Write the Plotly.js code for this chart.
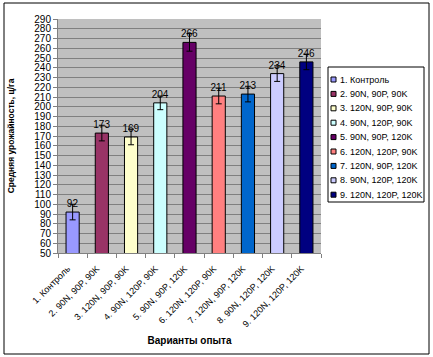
<!DOCTYPE html>
<html>
<head>
<meta charset="utf-8">
<script src="https://cdn.plot.ly/plotly-3.0.1.min.js"></script>
<style>
html,body{margin:0;padding:0;background:#fff;}
#chart{width:433px;height:357px;}
</style>
</head>
<body>
<div id="chart"></div>
<script>
const categories = ["1. Контроль", "2. 90N, 90P, 90K", "3. 120N, 90P, 90K", "4. 90N, 120P, 90K", "5. 90N, 90P, 120K", "6. 120N, 120P, 90K", "7. 120N, 90P, 120K", "8. 90N, 120P, 120K", "9. 120N, 120P, 120K"];
const yields = [92, 173, 169, 204, 266, 211, 213, 234, 246];
const errors = [8, 8, 8, 7, 9, 8, 8, 8, 8];
const colors = ["#9999FF", "#993366", "#FFFFCC", "#CCFFFF", "#660066", "#FF8080", "#0066CC", "#CCCCFF", "#000080"];

const font = "Arial, 'Liberation Sans', sans-serif";

// plot-area geometry (pixels) used to place the legend box in paper coordinates
const W = 433, H = 357, M = {l: 58, r: 112, t: 19, b: 104};
const pw = W - M.l - M.r, ph = H - M.t - M.b;
const px = x => (x - M.l) / pw;
const py = y => (H - M.b - y) / ph;

const traces = categories.map((c, i) => ({
  type: 'bar',
  x: [c],
  y: [yields[i]],
  name: c,
  width: 0.45,
  marker: {color: colors[i], line: {color: '#000', width: 1}},
  error_y: {type: 'data', array: [errors[i]], visible: true, color: '#000', thickness: 1, width: 3},
  text: [String(yields[i])],
  textposition: 'outside',
  constraintext: 'none',
  textfont: {family: font, size: 10, color: '#000'},
  cliponaxis: false
}));

// legend (drawn as box + swatches + labels, built from the series arrays)
const shapes = [
  {type: 'rect', xref: 'paper', yref: 'paper', x0: px(4), x1: px(429), y0: py(354), y1: py(3), line: {color: '#000', width: 1}},
  {type: 'rect', xref: 'paper', yref: 'paper', x0: px(328), x1: px(424), y0: py(202), y1: py(67), line: {color: '#000', width: 1}, fillcolor: '#fff'}
];
const annotations = [];
categories.forEach((c, i) => {
  const yc = 79.5 + i * 14.4;
  shapes.push({type: 'rect', xref: 'paper', yref: 'paper', x0: px(331), x1: px(336), y0: py(yc + 2.5), y1: py(yc - 2.5), line: {color: '#000', width: 1}, fillcolor: colors[i]});
  annotations.push({xref: 'paper', yref: 'paper', x: px(338), y: py(yc), xanchor: 'left', yanchor: 'middle', text: c, showarrow: false, font: {family: font, size: 9, color: '#000'}});
});

const layout = {
  width: W,
  height: H,
  margin: {l: M.l, r: M.r, t: M.t, b: M.b, autoexpand: false},
  paper_bgcolor: '#fff',
  plot_bgcolor: '#C0C0C0',
  barmode: 'overlay',
  showlegend: false,
  font: {family: font, size: 10, color: '#000'},
  xaxis: {
    type: 'category',
    categoryorder: 'array',
    categoryarray: categories,
    tickangle: -45,
    tickson: 'boundaries',
    ticks: 'outside',
    ticklen: 4,
    tickcolor: '#808080',
    ticklabelstandoff: 6,
    ticklabelshift: -5,
    showline: true,
    linecolor: '#808080',
    showgrid: false,
    tickfont: {family: font, size: 9},
    title: {text: 'Варианты опыта', font: {family: font, size: 10, weight: 'bold'}, standoff: 8}
  },
  yaxis: {
    range: [50, 290],
    dtick: 10,
    tick0: 50,
    ticks: 'outside',
    ticklen: 4,
    tickcolor: '#808080',
    showline: true,
    linecolor: '#808080',
    gridcolor: '#808080',
    gridwidth: 1,
    zeroline: false,
    tickfont: {family: font, size: 10},
    title: {text: 'Средняя урожайность, ц/га', font: {family: font, size: 8.5, weight: 'bold'}, standoff: 18}
  },
  shapes: shapes,
  annotations: annotations
};

Plotly.newPlot('chart', traces, layout, {displayModeBar: false, staticPlot: true});
</script>
</body>
</html>
